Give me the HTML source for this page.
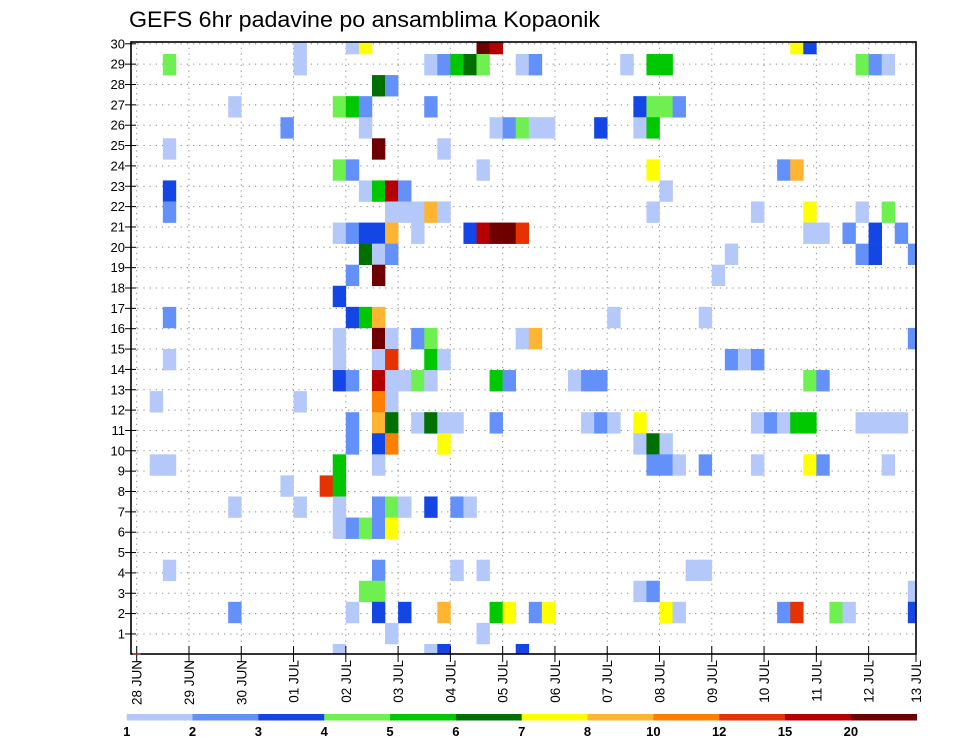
<!DOCTYPE html>
<html><head><meta charset="utf-8"><title>GEFS 6hr padavine</title>
<style>
html,body{margin:0;padding:0;background:#fff;}
svg{display:block;font-family:"Liberation Sans","DejaVu Sans",sans-serif;}
</style></head>
<body>
<svg id="chart" width="960" height="742" viewBox="0 0 960 742" xmlns="http://www.w3.org/2000/svg">
  <rect x="0" y="0" width="960" height="742" fill="#fff"/>
  <text x="129" y="27" font-size="22" textLength="471" lengthAdjust="spacingAndGlyphs" fill="#000">GEFS 6hr padavine po ansamblima Kopaonik</text>
  <defs><clipPath id="plotclip"><rect x="131" y="42" width="785" height="612"/></clipPath></defs>
  <g id="grid"></g>
  <g id="cells" clip-path="url(#plotclip)"></g>
  <rect x="131" y="42" width="785" height="612" fill="none" stroke="#000" stroke-width="1.6"/>
  <g id="yaxis"></g>
  <g id="xaxis"></g>
  <g id="legend"></g>
</svg>
<script>
// ---- data ----
const dayLabels = ["28 JUN","29 JUN","30 JUN","01 JUL","02 JUL","03 JUL","04 JUL","05 JUL","06 JUL","07 JUL","08 JUL","09 JUL","10 JUL","11 JUL","12 JUL","13 JUL"];
const memberTicks = [1,2,3,4,5,6,7,8,9,10,11,12,13,14,15,16,17,18,19,20,21,22,23,24,25,26,27,28,29,30];
const levelBounds = [1,2,3,4,5,6,7,8,10,12,15,20];
const levelLabels = ["1","2","3","4","5","6","7","8","10","12","15","20"];
const levelColors = ["#b4c8fa","#6490fa","#1446e6","#6ef050","#00c800","#007000","#ffff00","#ffb432","#ff8000","#e63200","#b40000","#6e0000"];
// member rows (bottom row index 0), their 6-hour step indices and precipitation (mm)
const rowMembers = [29,28,27,26,25,24,23,22,21,20,19,18,17,16,15,14,13,12,11,10,9,8,7,6,4,3,2,1,0];
const rowSteps = [
 [12,16,17,26,27,50,51],
 [2,12,22,23,24,25,26,29,30,37,39,40,55,56,57],
 [18,19],
 [7,15,16,17,22,38,39,40,41],
 [11,17,27,28,29,30,31,35,38,39],
 [2,18,23],
 [15,16,26,39,49,50],
 [2,17,18,19,20,40],
 [2,19,20,21,22,23,39,47,51,55,57],
 [15,16,17,18,19,21,25,26,27,28,29,51,52,54,56,58],
 [17,18,19,45,55,56,59],
 [16,18,44],
 [15],
 [2,16,17,18,36,43],
 [15,18,19,21,22,29,30,59],
 [2,15,18,19,22,23,45,46,47],
 [15,16,18,19,20,21,22,27,28,33,34,35,51,52],
 [1,12,18,19],
 [16,18,19,21,22,23,24,27,34,35,36,38,47,48,49,50,51,55,56,57,58],
 [16,18,19,23,38,39,40],
 [1,2,15,18,39,40,41,43,47,51,52,57],
 [11,14,15],
 [7,12,15,18,19,20,22,24,25],
 [15,16,17,18,19],
 [2,18,24,26,42,43],
 [17,18,38,39,59],
 [7,16,18,20,23,27,28,30,31,40,41,49,50,53,54,59],
 [19,26],
 [15,22,23,29]
];
const rowPrecip = [
 [1.5,1.5,7.5,25,17,7.5,3.5],
 [4.5,1.5,1.5,2.5,5.5,6.5,4.5,1.5,2.5,1.5,5.5,5.5,4.5,2.5,1.5],
 [6.5,2.5],
 [1.5,4.5,5.5,2.5,2.5,3.5,4.5,4.5,2.5],
 [2.5,1.5,1.5,2.5,4.5,1.5,1.5,3.5,1.5,5.5],
 [1.5,25,1.5],
 [4.5,2.5,1.5,7.5,2.5,9],
 [3.5,1.5,5.5,17,2.5,1.5],
 [2.5,1.5,1.5,1.5,9,1.5,1.5,1.5,7.5,1.5,4.5],
 [1.5,2.5,3.5,3.5,9,1.5,3.5,17,25,25,13.5,1.5,1.5,2.5,3.5,2.5],
 [6.5,1.5,2.5,1.5,2.5,3.5,2.5],
 [2.5,25,1.5],
 [3.5],
 [2.5,3.5,5.5,9,1.5,1.5],
 [1.5,25,1.5,2.5,4.5,1.5,9,2.5],
 [1.5,1.5,1.5,13.5,5.5,1.5,2.5,1.5,2.5],
 [3.5,2.5,17,1.5,1.5,4.5,1.5,5.5,2.5,1.5,2.5,2.5,4.5,2.5],
 [1.5,1.5,11,1.5],
 [2.5,9,6.5,1.5,6.5,1.5,1.5,2.5,1.5,2.5,1.5,7.5,1.5,2.5,1.5,5.5,5.5,1.5,1.5,1.5,1.5],
 [2.5,3.5,11,7.5,1.5,6.5,1.5],
 [1.5,1.5,5.5,1.5,2.5,2.5,1.5,2.5,1.5,7.5,2.5,1.5],
 [1.5,13.5,5.5],
 [1.5,1.5,1.5,2.5,4.5,1.5,3.5,2.5,1.5],
 [1.5,2.5,4.5,2.5,7.5],
 [1.5,2.5,1.5,1.5,1.5,1.5],
 [4.5,4.5,1.5,2.5,1.5],
 [2.5,1.5,3.5,3.5,9,5.5,7.5,2.5,7.5,7.5,1.5,2.5,13.5,4.5,1.5,3.5],
 [1.5,1.5],
 [1.5,1.5,3.5,3.5]
];

// ---- scales ----
const NS = "http://www.w3.org/2000/svg";
const X0 = 136.7, STEPW = 13.07, DAYW = STEPW * 4;
const PLOT_L = 131, PLOT_R = 916, PLOT_T = 42, PLOT_B = 654;
function xStep(k){ return X0 + STEPW * k; }
function xDay(d){ return Math.min(X0 + DAYW * d, PLOT_R); }
const CELLH = 21.07;
function yCellCenter(i){ return 654.5 - CELLH * i; }
function yTick(m){ return 654.3 - 20.35 * m; }
function colorFor(v){
  let idx = 0;
  for (let j = 0; j < levelBounds.length; j++){ if (v >= levelBounds[j]) idx = j; }
  return levelColors[idx];
}
function mk(tag, attrs){
  const el = document.createElementNS(NS, tag);
  for (const a in attrs) el.setAttribute(a, attrs[a]);
  return el;
}

// ---- grid ----
const grid = document.getElementById("grid");
for (let d = 0; d < dayLabels.length; d++){
  const x = xDay(d);
  const ln = mk("line", {x1:x, y1:PLOT_T, x2:x, y2:PLOT_B, stroke:"#888", "stroke-width":1, "stroke-dasharray":"1.2,4.5"});
  
  
  grid.appendChild(ln);
}
for (const m of memberTicks){
  const y = yTick(m);
  const ln = mk("line", {x1:PLOT_L, y1:y, x2:PLOT_R, y2:y, stroke:"#888", "stroke-width":1, "stroke-dasharray":"1.2,5"});
  
  
  grid.appendChild(ln);
}

// ---- cells ----
const cells = document.getElementById("cells");
for (let r = 0; r < rowMembers.length; r++){
  const i = rowMembers[r];
  for (let c = 0; c < rowSteps[r].length; c++){
    const k = rowSteps[r][c];
    const v = rowPrecip[r][c];
    const rc = mk("rect", {x:xStep(k), y:yCellCenter(i) - CELLH/2, width:STEPW + 0.3, height:CELLH + 0.3, fill:colorFor(v)});
    
    
    cells.appendChild(rc);
  }
}

// ---- y axis ----
const yaxis = document.getElementById("yaxis");
for (const m of memberTicks){
  const y = yTick(m);
  const t = mk("line", {x1:125, y1:y, x2:136, y2:y, stroke:"#000", "stroke-width":1});
  
  
  yaxis.appendChild(t);
  const tx = mk("text", {x:125, y:y + 4.5, "font-size":13, "text-anchor":"end", fill:"#000"});
  tx.textContent = String(m);
  
  
  yaxis.appendChild(tx);
}

// ---- x axis ----
const xaxis = document.getElementById("xaxis");
for (let d = 0; d < dayLabels.length; d++){
  const x = xDay(d);
  const t = mk("line", {x1:x, y1:PLOT_B - 8, x2:x, y2:PLOT_B + 8, stroke:"#000", "stroke-width":1});
  
  
  xaxis.appendChild(t);
  const tx = mk("text", {x:0, y:0, "font-size":13.5, "text-anchor":"end", fill:"#000", transform:"translate(" + (x + 5) + "," + 660 + ") rotate(-90)"});
  tx.textContent = dayLabels[d];
  
  
  xaxis.appendChild(tx);
}
const mark = mk("line", {x1:X0 - 4, y1:PLOT_B, x2:X0 + 4, y2:PLOT_B, stroke:"#d04040", "stroke-width":1});


xaxis.appendChild(mark);

// ---- legend ----
const legend = document.getElementById("legend");
const LX0 = 126.7, LX1 = 916.7, LW = (LX1 - LX0) / levelColors.length;
for (let j = 0; j < levelColors.length; j++){
  const rc = mk("rect", {x:LX0 + j * LW, y:714, width:LW + 0.3, height:6.5, fill:levelColors[j]});
  
  
  legend.appendChild(rc);
  const tx = mk("text", {x:LX0 + j * LW, y:736, "font-size":13, "font-weight":"bold", "text-anchor":"middle", fill:"#000"});
  tx.textContent = levelLabels[j];
  
  
  legend.appendChild(tx);
}
</script>
</body></html>
